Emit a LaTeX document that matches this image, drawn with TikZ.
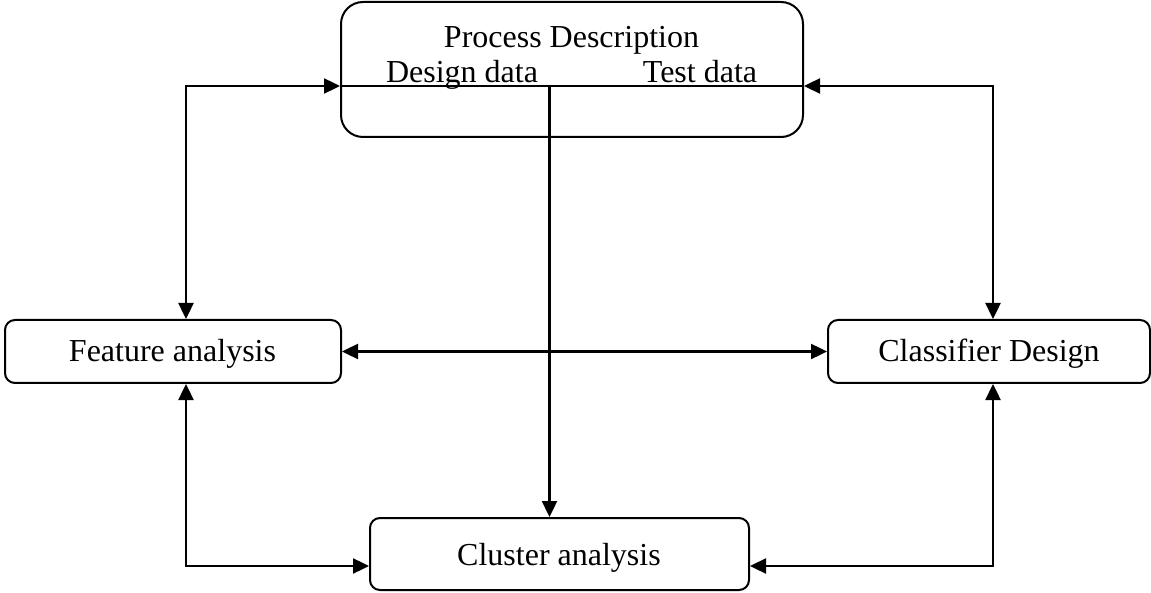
\documentclass[tikz,border=0pt]{standalone}
\usepackage{fontspec}
\setmainfont{Liberation Serif}
\usetikzlibrary{arrows.meta}
\begin{document}
\begin{tikzpicture}[x=1pt,y=-1pt,
  box/.style={draw,line width=2pt,rounded corners=10pt,inner sep=0pt},
  bigbox/.style={box,rounded corners=22pt},
  lbl/.style={inner sep=0pt,anchor=base,font=\fontsize{32}{36}\selectfont},
  conn/.style={line width=2.4pt,-{Triangle[length=16pt,width=15pt]}},
  conn2/.style={line width=2.4pt,{Triangle[length=16pt,width=15pt]}-{Triangle[length=16pt,width=15pt]}},
  plain/.style={line width=2pt}]
\useasboundingbox (0,0) rectangle (1151,593);
% boxes
\node[bigbox,minimum width=462pt,minimum height=135pt] (proc) at (572,69.5) {};
\node[box,minimum width=336pt,minimum height=63pt] (feat) at (173,351.5) {};
\node[box,minimum width=322pt,minimum height=63pt] (clas) at (989,351.5) {};
\node[box,minimum width=379pt,minimum height=72pt] (clus) at (559.5,554) {};
% texts
\node[lbl] (t1) at (571.5,48) {Process Description};
\node[lbl] (t2) at (462,83) {Design data};
\node[lbl] (t3) at (700,83) {Test data};
\node[lbl] (t4) at (172.5,362) {Feature analysis};
\node[lbl] (t5) at (989,362) {Classifier Design};
\node[lbl] (t6) at (559,565) {Cluster analysis};
% coordinates
\coordinate (lt) at (186,86);
\coordinate (rt) at (993,86);
\coordinate (dd) at (549.5,86);
\coordinate (lb) at (186,566);
\coordinate (rb) at (993,566);
% connectors
\draw[plain] (proc.west |- lt) -- (proc.east |- rt);
\draw[conn2] (feat.north -| lt) -- (lt) -- (proc.west |- lt);
\draw[conn2] (clas.north -| rt) -- (rt) -- (proc.east |- rt);
\draw[conn] (dd) -- (clus.north -| dd);
\draw[conn2] (feat.east) -- (clas.west);
\draw[conn2] (feat.south -| lb) -- (lb) -- (clus.west |- lb);
\draw[conn2] (clas.south -| rb) -- (rb) -- (clus.east |- rb);
\end{tikzpicture}
\end{document}
